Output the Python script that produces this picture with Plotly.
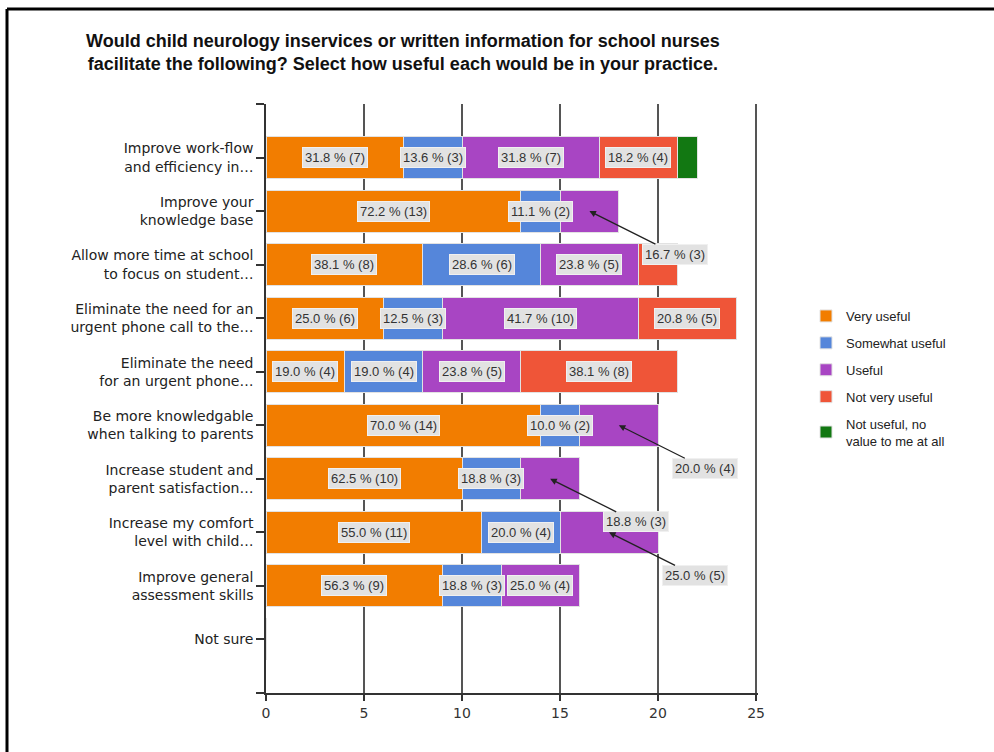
import math
import plotly.graph_objects as go

categories = [
    "Improve work-flow<br>and efficiency in…",
    "Improve your<br>knowledge base",
    "Allow more time at school<br>to focus on student…",
    "Eliminate the need for an<br>urgent phone call to the…",
    "Eliminate the need<br>for an urgent phone…",
    "Be more knowledgable<br>when talking to parents",
    "Increase student and<br>parent satisfaction…",
    "Increase my comfort<br>level with child…",
    "Improve general<br>assessment skills",
    "Not sure",
]

series_names = ["Very useful", "Somewhat useful", "Useful", "Not very useful",
                "Not useful, no<br>value to me at all"]

very_useful     = [7, 13, 8, 6, 4, 14, 10, 11, 9, 0]
somewhat_useful = [3, 2, 6, 3, 4, 2, 3, 4, 3, 0]
useful          = [7, 3, 5, 10, 5, 4, 3, 5, 4, 0]
not_very_useful = [4, 0, 2, 5, 8, 0, 0, 0, 0, 0]
not_useful      = [1, 0, 0, 0, 0, 0, 0, 0, 0, 0]

# how each segment label is shown: "in" = inside box, "call" = callout with arrow, "" = hidden
label_mode = [
    ["in", "in", "in", "in", ""],
    ["in", "in", "call", "", ""],
    ["in", "in", "in", "", ""],
    ["in", "in", "in", "in", ""],
    ["in", "in", "in", "in", ""],
    ["in", "in", "call", "", ""],
    ["in", "in", "call", "", ""],
    ["in", "in", "call", "", ""],
    ["in", "in", "in", "", ""],
    ["", "", "", "", ""],
]

x_ticks = [0, 5, 10, 15, 20, 25]

colors = ["#F27D00", "#5586DA", "#A845C3", "#EF5538", "#127812"]
series = [very_useful, somewhat_useful, useful, not_very_useful, not_useful]

FONT = "Liberation Sans, Arial, sans-serif"
TFONT = "DejaVu Sans, sans-serif"

PW = 492.0  # plot area width in px
PH = 589.0  # plot area height in px

fig = go.Figure()
ypos = list(range(len(categories)))
for name, vals, col in zip(series_names, series, colors):
    fig.add_trace(go.Bar(
        y=ypos, x=vals, name=name, orientation="h",
        marker=dict(color=col, line=dict(color="#E2E2E2", width=1)),
        width=0.785, legendgroup=name, hoverinfo="skip",
    ))

def pct(c, t):
    v = math.floor(c / t * 1000 + 0.5) / 10
    return f"{v:.1f} % ({c})"

annotations = []
for i in range(len(categories)):
    total = sum(s[i] for s in series)
    left = 0
    for j, s in enumerate(series):
        c = s[i]
        if c > 0:
            mid = left + c / 2
            mode = label_mode[i][j]
            if mode == "in":
                annotations.append(dict(
                    x=mid, y=i, xref="x", yref="y", text=pct(c, total),
                    showarrow=False, bgcolor="#E2E2E2", bordercolor="#F0F0F0",
                    borderwidth=1, borderpad=2,
                    font=dict(family=FONT, size=13, color="#333333")))
            elif mode == "call":
                annotations.append(dict(
                    x=mid, y=i, xref="x", yref="y", text=pct(c, total),
                    showarrow=True, arrowhead=2, arrowsize=1, arrowwidth=1.3,
                    arrowcolor="#222222", ax=86, ay=43, standoff=0,
                    bgcolor="#E2E2E2", bordercolor="#F0F0F0",
                    borderwidth=1, borderpad=2,
                    font=dict(family=FONT, size=13, color="#333333")))
        left += c

annotations.append(dict(
    text="<b>Would child neurology inservices or written information for school nurses<br>"
         "facilitate the following? Select how useful each would be in your practice.</b>",
    xref="paper", yref="paper", x=(403 - 266) / PW, y=(693 - 53) / PH,
    xanchor="center", yanchor="middle", showarrow=False, align="center",
    font=dict(family=FONT, size=18, color="#111111")))

shapes = [
    dict(type="line", xref="paper", yref="paper",
         x0=(7 - 266) / PW, x1=(1000 - 266) / PW,
         y0=(693 - 9) / PH, y1=(693 - 9) / PH,
         line=dict(color="black", width=3)),
    dict(type="line", xref="paper", yref="paper",
         x0=(7 - 266) / PW, x1=(7 - 266) / PW,
         y0=(693 - 9) / PH, y1=(693 - 760) / PH,
         line=dict(color="black", width=3)),
]

fig.update_layout(
    width=994, height=752,
    margin=dict(l=266, r=236, t=104, b=59),
    paper_bgcolor="white", plot_bgcolor="white",
    barmode="stack", bargap=0.2,
    showlegend=True,
    legend=dict(x=(806 - 266) / PW, y=(693 - 301) / PH, xanchor="left", yanchor="top",
                traceorder="grouped", tracegroupgap=7,
                font=dict(family=FONT, size=13, color="#222222"),
                bgcolor="rgba(0,0,0,0)"),
    annotations=annotations,
    shapes=shapes,
    font=dict(family=FONT, size=14, color="#222222"),
)

fig.update_xaxes(
    range=[0, 25.1], tickvals=x_ticks, ticktext=[str(v) for v in x_ticks],
    showgrid=True, gridcolor="#555555", gridwidth=1.5,
    zeroline=False, showline=True, linecolor="#333333", linewidth=1.5,
    ticks="outside", ticklen=6, tickcolor="#333333", tickwidth=1.5,
    tickfont=dict(family=TFONT, size=14, color="#333333"),
)

fig.update_yaxes(
    range=[10, -1],
    tickvals=[-1] + ypos + [10], ticktext=[""] + categories + [""],
    showgrid=False, zeroline=False, showline=True,
    linecolor="#333333", linewidth=1.5,
    ticks="outside", ticklen=8, tickcolor="#333333", tickwidth=1.5,
    tickfont=dict(family=TFONT, size=14, color="#222222"),
)

fig.write_html("out.html", config={"displayModeBar": False},
               post_script="document.body.style.margin='0';document.body.style.padding='0';")
